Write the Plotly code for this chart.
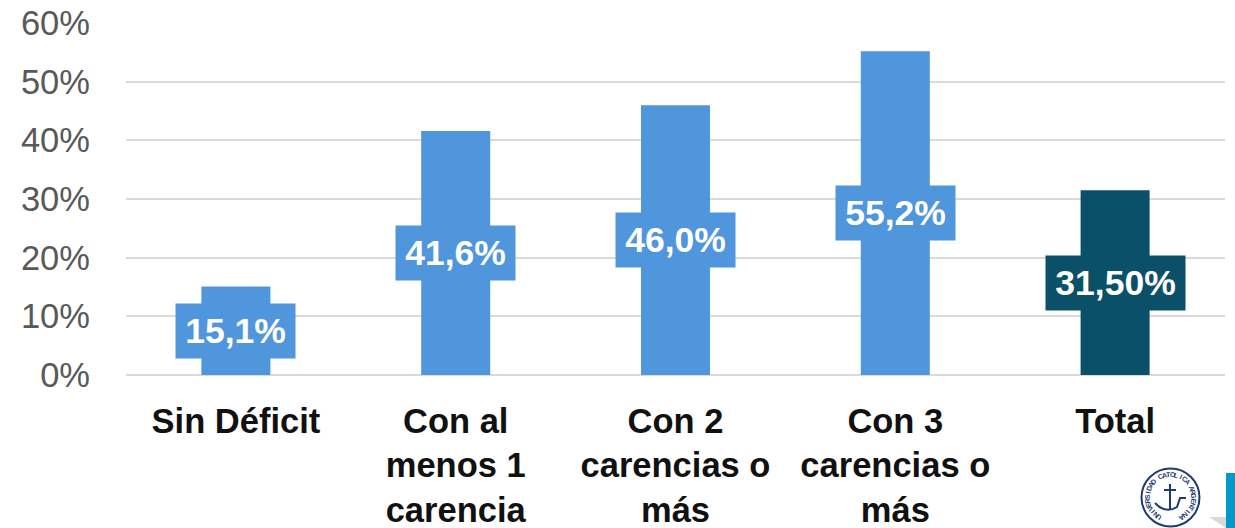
import math
import plotly.graph_objects as go

categories = ["Sin Déficit", "Con al<br>menos 1<br>carencia", "Con 2<br>carencias o<br>más",
              "Con 3<br>carencias o<br>más", "Total"]
values = [15.1, 41.6, 46.0, 55.2, 31.5]
labels = ["15,1%", "41,6%", "46,0%", "55,2%", "31,50%"]
colors = ["#5096DC", "#5096DC", "#5096DC", "#5096DC", "#0B5069"]
label_widths = [119, 119, 119, 119, 139]
y_ticks = [0, 10, 20, 30, 40, 50, 60]
seal_text = "UNIVERSIDAD CATOLICA ARGENTINA"

W, H = 1235, 528
L, T, PW, PH = 126, 23, 1099, 352
px = lambda x: (x - L) / PW
py = lambda y: 1 - (y - T) / PH

fig = go.Figure(go.Bar(
    x=categories, y=values, marker=dict(color=colors, line_width=0), width=0.314,
    hoverinfo="skip"))

for c, v, t, col, w in zip(categories, values, labels, colors, label_widths):
    fig.add_annotation(x=c, y=v / 2, text=f"<b>{t}</b>", showarrow=False, bgcolor=col,
                       width=w, height=54, borderpad=0, align="center", valign="middle",
                       font=dict(family="Liberation Sans", size=35.5, color="white"))

# university seal and corner decoration
cx, cy, r = 1170.5, 497.5, 29
shapes = [
    dict(type="circle", xref="paper", yref="paper", x0=px(cx - r), x1=px(cx + r), y0=py(cy + r), y1=py(cy - r),
         line=dict(color="#1F3A73", width=2), fillcolor="rgba(0,0,0,0)", layer="below"),
    dict(type="line", xref="paper", yref="paper", x0=px(1170), x1=px(1170), y0=py(510), y1=py(484),
         line=dict(color="#1F3A73", width=2)),
    dict(type="line", xref="paper", yref="paper", x0=px(1164), x1=px(1176), y0=py(490), y1=py(490),
         line=dict(color="#1F3A73", width=2)),
    dict(type="path", xref="paper", yref="paper",
         path=f"M {px(1155)} {py(503)} Q {px(1165)} {py(514)} {px(1177)} {py(507)} L {px(1180)} {py(498)} L {px(1186)} {py(498)}",
         line=dict(color="#1F3A73", width=2)),
    dict(type="rect", xref="paper", yref="paper", x0=px(1226), x1=px(1235), y0=py(528), y1=py(473),
         line_width=0, fillcolor="#0099C9"),
    dict(type="path", xref="paper", yref="paper",
         path=f"M {px(1209)} {py(517)} L {px(1226)} {py(517)} L {px(1226)} {py(528)} Z",
         line_width=0, fillcolor="#D9D9D9"),
]
n = len(seal_text)
for i, ch in enumerate(seal_text):
    a = math.radians(-150 + 300 * i / (n - 1))
    fig.add_annotation(xref="paper", yref="paper", x=px(cx + 23 * math.sin(a)), y=py(cy - 23 * math.cos(a)),
                       xanchor="center", yanchor="middle", xshift=0, yshift=0,
                       text=f"<b>{ch}</b>", showarrow=False, textangle=round(math.degrees(a)), borderpad=0,
                       font=dict(family="Liberation Sans", size=7, color="#1F3A73"))

fig.update_layout(
    width=W, height=H, margin=dict(l=L, r=W - L - PW, t=T, b=H - T - PH, autoexpand=False),
    paper_bgcolor="white", plot_bgcolor="white", showlegend=False, shapes=shapes,
    xaxis=dict(type="category", showgrid=False, zeroline=False, showline=False, ticks="",
               ticklen=0, tickangle=0, automargin=False, ticklabelstandoff=22,
               tickfont=dict(family="Liberation Sans", size=34.5, color="#111111"),
               tickvals=categories,
               ticktext=[f"<b>{c.replace('<br>', '</b><br><b>')}</b>" for c in categories]),
    yaxis=dict(range=[0, 60], tickvals=y_ticks, ticktext=[f"{v}%" for v in y_ticks], automargin=False,
               gridcolor="#DADADA", gridwidth=2, zeroline=True, zerolinecolor="#DADADA", zerolinewidth=2,
               showline=False, ticks="", ticklabelstandoff=35,
               tickfont=dict(family="Liberation Sans", size=34.5, color="#595959")),
)
fig.write_html("out.html", config={"displayModeBar": False}, post_script="document.body.style.margin='0';")
